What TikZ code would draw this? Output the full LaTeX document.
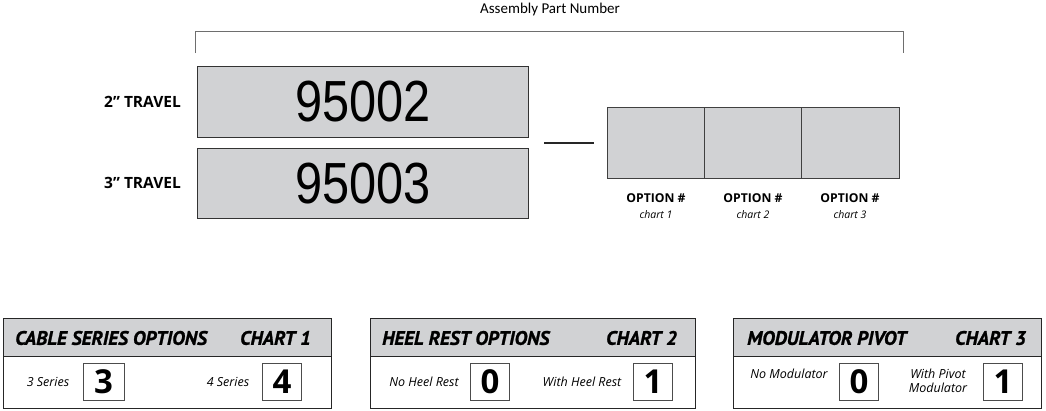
\documentclass[tikz,border=0pt]{standalone}
\usepackage{fontspec}
\setmainfont{Open Sans}
\newfontfamily\numfont{Liberation Sans}
\newfontfamily\hdrfont[FakeBold=1.2]{PT Sans}
\newfontfamily\thinfont{Carlito}
\definecolor{boxgray}{HTML}{D1D2D4}
\definecolor{linegray}{HTML}{6E6E6E}
\begin{document}
\begin{tikzpicture}[x=1pt,y=-1pt,
  partbox/.style={draw=black!80, line width=0.8pt, fill=boxgray, inner sep=0pt,
    minimum width=331pt, minimum height=71pt, anchor=north west,
    font=\numfont\fontsize{58}{58}\selectfont},
  optbox/.style={draw=black!75, line width=0.8pt, fill=boxgray, inner sep=0pt,
    minimum width=97.3pt, minimum height=71pt, anchor=north west},
  headbox/.style={draw=black!85, line width=1.3pt, fill=boxgray, inner sep=0pt,
    minimum height=38pt, anchor=north west},
  bodybox/.style={draw=black!85, line width=1.3pt, fill=white, inner sep=0pt,
    minimum height=52pt, anchor=north west},
  headtxt/.style={font=\hdrfont\bfseries\itshape\fontsize{19.5}{19.5}\selectfont, inner sep=0pt},
  digitbox/.style={draw=black!70, line width=0.8pt, fill=white, inner sep=0pt,
    minimum width=39pt, minimum height=37pt, font=\bfseries\fontsize{33}{33}\selectfont},
  itlabel/.style={font=\itshape\fontsize{12.5}{14}\selectfont, align=center, inner sep=0pt},
  travlabel/.style={font=\bfseries\fontsize{15.5}{15.5}\selectfont, anchor=east, inner sep=0pt},
  optlabel/.style={font=\bfseries\fontsize{12.2}{12.2}\selectfont, inner sep=0pt},
  chartlabel/.style={font=\itshape\fontsize{10.5}{10.5}\selectfont, inner sep=0pt},
  bracketline/.style={draw=linegray, line width=1pt}
]
\useasboundingbox (0,0) rectangle (1046,410);

% title and bracket
\node[font=\thinfont\fontsize{15}{15}\selectfont, inner sep=0pt] (title) at (550,9) {Assembly Part Number};
\coordinate (bl) at (195,53);
\coordinate (blt) at (195,31);
\coordinate (brt) at (903,31);
\coordinate (br) at (903,53);
\draw[bracketline] (bl) -- (blt) -- (brt) -- (br);

% part number boxes
\node[partbox] (p2) at (197,66) {\scalebox{0.84}[1]{95002}};
\node[partbox, minimum height=70pt] (p3) at (197,148) {\scalebox{0.84}[1]{95003}};
\node[travlabel] (t2) at (181,102) {2” TRAVEL};
\node[travlabel] (t3) at (181,183) {3” TRAVEL};

% dash
\coordinate (d1) at (544,143);
\coordinate (d2) at (594,143);
\draw[line width=1.6pt, black!85] (d1) -- (d2);

% option boxes
\node[optbox] (o1) at (607,107) {};
\node[optbox] (o2) at (704,107) {};
\node[optbox] (o3) at (801.3,107) {};
\foreach \i/\x in {1/656,2/753,3/850}{
  \node[optlabel] (ol\i) at (\x,198) {OPTION \#};
  \node[chartlabel] (oc\i) at (\x,215) {chart \i};
}

% chart 1
\node[headbox, minimum width=328pt] (h1) at (3,318) {};
\node[bodybox, minimum width=328pt] (b1) at (3,356) {};
\node[headtxt, anchor=west] (h1l) at (15,338) {CABLE SERIES OPTIONS};
\node[headtxt, anchor=east] (h1r) at (311,338) {CHART 1};
\node[itlabel] (l13) at (48,382) {3 Series};
\node[digitbox, minimum width=41pt] (d13) at (103.5,381.5) {3};
\node[itlabel] (l14) at (228,382) {4 Series};
\node[digitbox] (d14) at (282,381.5) {4};

% chart 2
\node[headbox, minimum width=325pt] (h2) at (370,318) {};
\node[bodybox, minimum width=325pt] (b2) at (370,356) {};
\node[headtxt, anchor=west] (h2l) at (382,338) {HEEL REST OPTIONS};
\node[headtxt, anchor=east] (h2r) at (677,338) {CHART 2};
\node[itlabel] (l20) at (424,382) {No Heel Rest};
\node[digitbox] (d20) at (490,382) {0};
\node[itlabel] (l21) at (582,382) {With Heel Rest};
\node[digitbox] (d21) at (653,382) {1};

% chart 3
\node[headbox, minimum width=308pt] (h3) at (733,318) {};
\node[bodybox, minimum width=308pt] (b3) at (733,356) {};
\node[headtxt, anchor=west] (h3l) at (747,338) {MODULATOR PIVOT};
\node[headtxt, anchor=east] (h3r) at (1026,338) {CHART 3};
\node[itlabel] (l30) at (789,374) {No Modulator};
\node[digitbox] (d30) at (859,382) {0};
\node[itlabel] (l31) at (938,381) {With Pivot\\Modulator};
\node[digitbox] (d31) at (1003,382) {1};
\end{tikzpicture}
\end{document}
